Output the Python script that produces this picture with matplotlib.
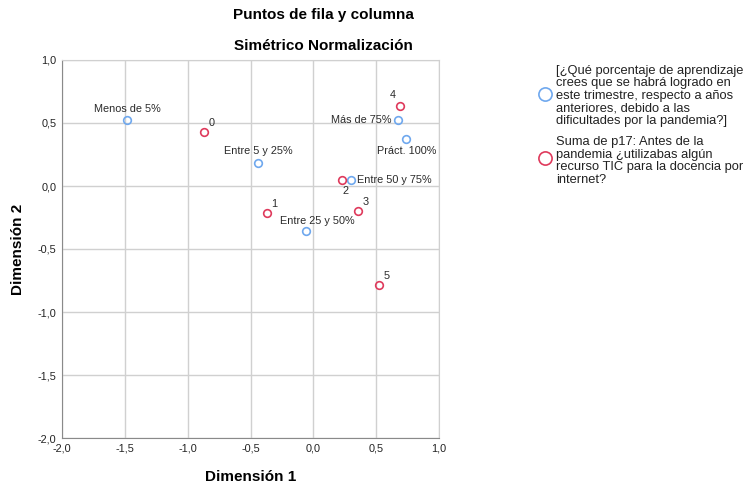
import matplotlib
matplotlib.use("Agg")
import matplotlib.pyplot as plt
from matplotlib.lines import Line2D

plt.rcParams['font.family'] = ['Liberation Sans', 'DejaVu Sans']

# column points (learning percentage)
col_labels = ['Menos de 5%', 'Entre 5 y 25%', 'Entre 25 y 50%', 'Entre 50 y 75%', 'Más de 75%', 'Práct. 100%']
col_x = [-1.48, -0.44, -0.06, 0.30, 0.67, 0.74]
col_y = [0.52, 0.18, -0.36, 0.045, 0.52, 0.37]

# row points (sum of p17)
row_labels = ['0', '1', '2', '3', '4', '5']
row_x = [-0.87, -0.37, 0.23, 0.355, 0.69, 0.525]
row_y = [0.425, -0.215, 0.045, -0.20, 0.635, -0.785]

xticks = [-2.0, -1.5, -1.0, -0.5, 0.0, 0.5, 1.0]
yticks = [-2.0, -1.5, -1.0, -0.5, 0.0, 0.5, 1.0]

blue = '#6fa8ee'
red = '#df3a5c'

fig = plt.figure(figsize=(7.49, 4.90), dpi=100)
ax = fig.add_axes([62/749, 52/490, 377/749, 378/490])

ax.plot(col_x, col_y, 'o', mfc='none', mec=blue, mew=1.2, ms=5.5, zorder=3)
ax.plot(row_x, row_y, 'o', mfc='none', mec=red, mew=1.2, ms=5.5, zorder=3)

# label offsets (points) and alignment per label, like SPSS places them
col_off = [((0, 5), 'center', 'bottom'), ((0, 5), 'center', 'bottom'), ((8, 4), 'center', 'bottom'),
           ((4, 0), 'left', 'center'), ((-4, 0), 'right', 'center'), ((0, -5), 'center', 'top')]
row_off = [((3, 3), 'left', 'bottom'), ((3, 3), 'left', 'bottom'), ((2, -4), 'center', 'top'),
           ((3, 3), 'left', 'bottom'), ((-3, 4), 'right', 'bottom'), ((3, 3), 'left', 'bottom')]
for lab, x, y, (off, ha, va) in zip(col_labels, col_x, col_y, col_off):
    ax.annotate(lab, (x, y), xytext=off, textcoords='offset points', ha=ha, va=va,
                fontsize=7.8, color='#2a2a2a')
for lab, x, y, (off, ha, va) in zip(row_labels, row_x, row_y, row_off):
    ax.annotate(lab, (x, y), xytext=off, textcoords='offset points', ha=ha, va=va,
                fontsize=7.8, color='#2a2a2a')

ax.set_xlim(-2, 1)
ax.set_ylim(-2, 1)
ax.set_xticks(xticks)
ax.set_yticks(yticks)
ax.set_xticklabels([f'{t:.1f}'.replace('.', ',') for t in xticks])
ax.set_yticklabels([f'{t:.1f}'.replace('.', ',') for t in yticks])
ax.tick_params(length=0, labelsize=7.8, labelcolor='#222222', pad=4)
ax.grid(True, color='#d0d0d0', lw=1.0)
ax.set_axisbelow(True)
for s in ax.spines.values():
    s.set_color('#d0d0d0')
ax.spines['left'].set_color('#8a8a8a')
ax.spines['bottom'].set_color('#8a8a8a')

ax.set_xlabel('Dimensión 1', fontsize=11, fontweight='bold', labelpad=12)
ax.set_ylabel('Dimensión 2', fontsize=11, fontweight='bold', labelpad=9)

fig.text(323/749, 1 - 15/490, 'Puntos de fila y columna', ha='center', va='center',
         fontsize=11, fontweight='bold')
fig.text(323/749, 1 - 46/490, 'Simétrico Normalización', ha='center', va='center',
         fontsize=11, fontweight='bold')

# legend
legend_items = [
    (blue, 94, 96, '[¿Qué porcentaje de aprendizaje\ncrees que se habrá logrado en\neste trimestre, respecto a años\nanteriores, debido a las\ndificultades por la pandemia?]'),
    (red, 158, 161, 'Suma de p17: Antes de la\npandemia ¿utilizabas algún\nrecurso TIC para la docencia por\ninternet?'),
]
for color, ypix, ytext, text in legend_items:
    fig.add_artist(Line2D([545/749], [1 - ypix/490], marker='o', mfc='none', mec=color,
                          mew=1.2, ms=9.5, transform=fig.transFigure))
    fig.text(556/749, 1 - ytext/490, text, ha='left', va='center', fontsize=9.3,
             color='#222222', linespacing=1.08)

fig.savefig('out.png', dpi=100)
